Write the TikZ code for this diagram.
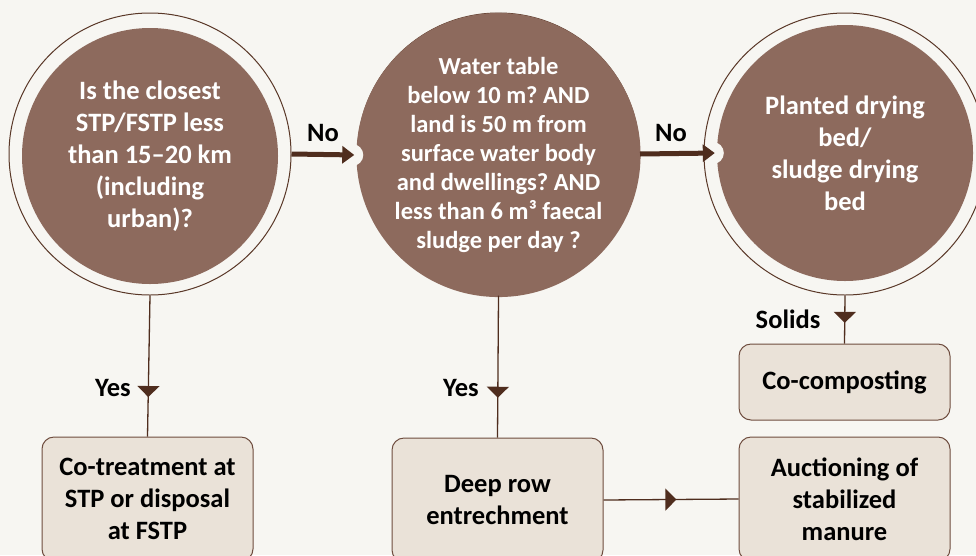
\documentclass[tikz,border=0pt]{standalone}
\usepackage{fontspec}
\setmainfont{Carlito}
\frenchspacing
\usetikzlibrary{arrows.meta,decorations.markings,calc}
\definecolor{bgc}{HTML}{F7F6F2}
\definecolor{circfill}{HTML}{8D6A5D}
\definecolor{ringline}{HTML}{5A3828}
\definecolor{boxfill}{HTML}{EAE2D8}
\definecolor{boxline}{HTML}{6E4C3E}
\definecolor{arrowc}{HTML}{4F2D1E}
\tikzset{
  outerring/.style={circle,draw=ringline,line width=1pt,fill=bgc,minimum size=282pt,inner sep=0pt},
  innercirc/.style={circle,fill=circfill,minimum size=256pt,inner sep=0pt,text=white,align=center,
    font=\fontsize{26.5}{32}\selectfont\bfseries},
  stepbox/.style={draw=boxline,line width=1pt,fill=boxfill,rounded corners=12pt,minimum width=211pt,
    align=center,font=\fontsize{26.5}{32}\selectfont\bfseries,inner sep=0pt},
  noarrow/.style={draw=arrowc,line width=5pt,-{Triangle[width=17pt,length=12pt]}},
  thinconn/.style={draw=arrowc,line width=1.3pt},
  midtri/.style={postaction={decorate},decoration={markings,mark=at position #1 with {\arrow[arrowc]{Triangle[width=22pt,length=11pt]}}}},
  lbl/.style={font=\fontsize{26.5}{30}\selectfont\bfseries,text=black,inner sep=0pt},
  notch/.style={circle,fill=bgc,minimum size=22pt,inner sep=0pt}
}
\begin{document}
\begin{tikzpicture}[x=1pt,y=-1pt]
\fill[bgc] (0,0) rectangle (976,555);
\useasboundingbox (0,0) rectangle (976,555);
\clip (0,0) rectangle (976,555);
% circles
\node[outerring] (c1o) at (150,154) {};
\node[innercirc] (c1) at (150,156) {Is the closest\\STP/FSTP less\\than 15--20 km\\(including\\urban)?};
\node[outerring] (c2o) at (498.5,154) {};
\node[innercirc,font=\fontsize{24.5}{29}\selectfont\bfseries] (c2) at (498.5,155) {Water table\\below 10 m? AND\\land is 50 m from\\surface water body\\and dwellings? AND\\less than 6 m³ faecal\\sludge per day ?};
\node[outerring] (c3o) at (845,154) {};
\node[innercirc] (c3) at (845,153) {Planted drying\\bed/\\sludge drying\\bed};
% notches
\node[notch] (n2) at ([xshift=-4pt]c2.west) {};
\node[notch] (n3) at ([xshift=-4pt]c3.west) {};
% boxes
\node[stepbox,minimum height=124pt] (b1) at (147.5,499) {Co-treatment at\\STP or disposal\\at FSTP};
\node[stepbox,minimum height=124pt] (b2) at (497.5,500) {Deep row\\entrechment};
\node[stepbox,minimum height=124pt] (b3) at (844.5,499) {Auctioning of\\stabilized\\manure};
\node[stepbox,minimum height=76pt] (b4) at (844.5,382) {Co-composting};
% arrows
\draw[noarrow,shorten >=2pt] (c1o.east) -- (c2.west);
\draw[noarrow,shorten >=2pt] (c2o.east) -- (c3.west);
\draw[thinconn,midtri=0.72] (c1o.south) -- (b1.north);
\draw[thinconn,midtri=0.72] (c2o.south) -- (b2.north);
\draw[thinconn,midtri=0.57] (c3o.south) -- (b4.north);
\draw[thinconn,midtri=0.54] (b2.east) -- (b3.west);
% labels
\node[lbl] (l1) at (323,133) {No};
\node[lbl] (l2) at (671,133) {No};
\node[lbl] (l3) at (113,388) {Yes};
\node[lbl] (l4) at (461,388) {Yes};
\node[lbl] (l5) at (788,319) {Solids};
\end{tikzpicture}
\end{document}
